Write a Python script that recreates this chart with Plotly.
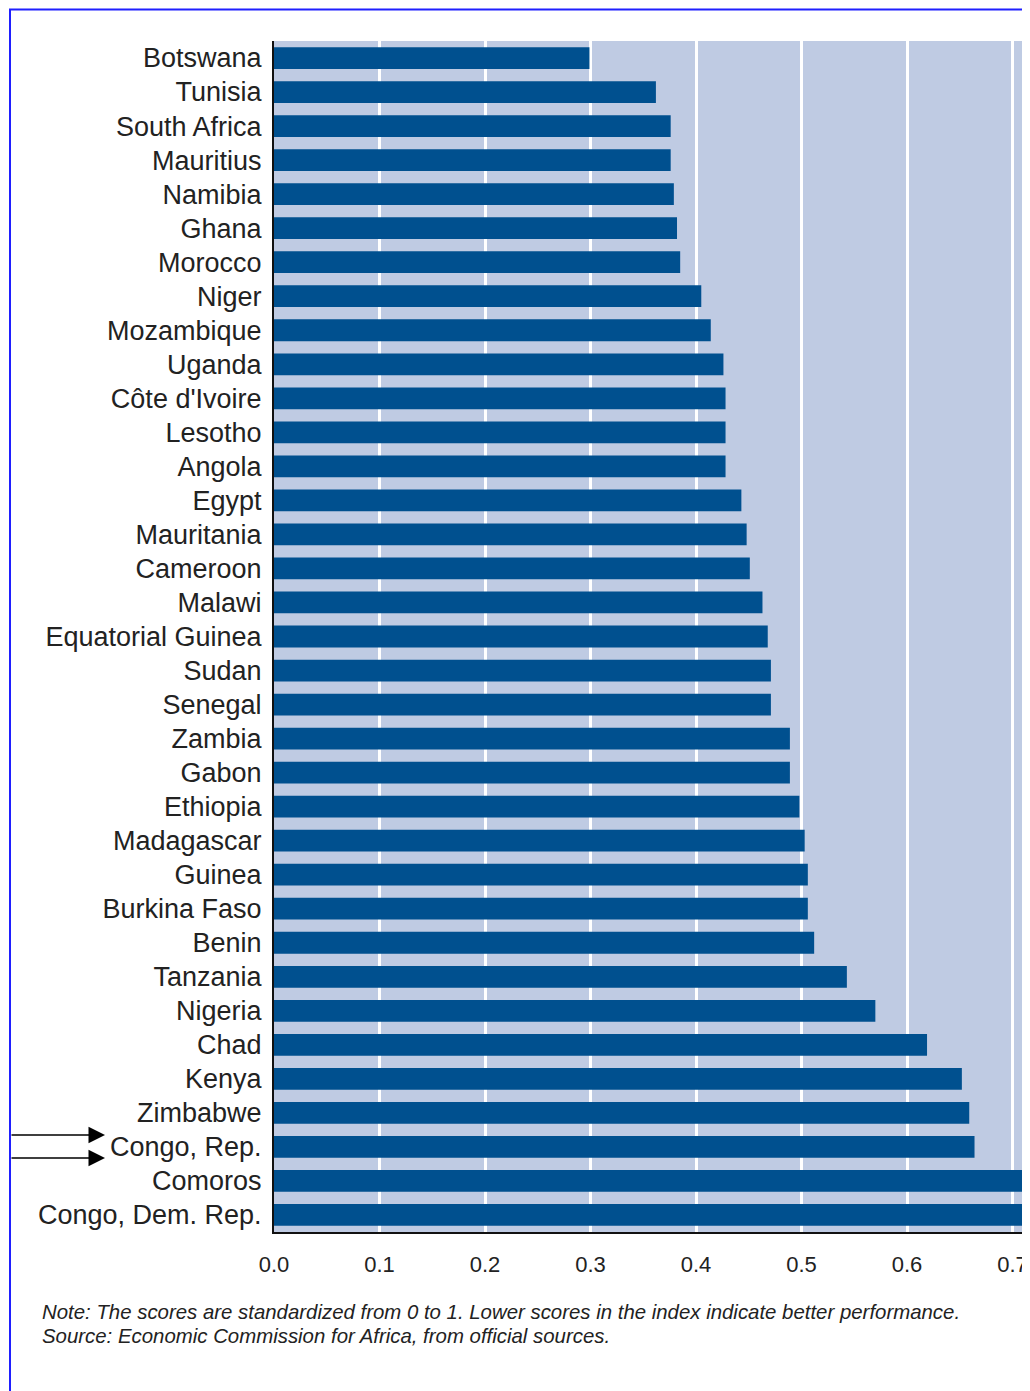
import plotly.graph_objects as go

countries = ["Botswana", "Tunisia", "South Africa", "Mauritius", "Namibia", "Ghana", "Morocco",
             "Niger", "Mozambique", "Uganda", "Côte d'Ivoire", "Lesotho", "Angola", "Egypt",
             "Mauritania", "Cameroon", "Malawi", "Equatorial Guinea", "Sudan", "Senegal", "Zambia",
             "Gabon", "Ethiopia", "Madagascar", "Guinea", "Burkina Faso", "Benin", "Tanzania",
             "Nigeria", "Chad", "Kenya", "Zimbabwe", "Congo, Rep.", "Comoros", "Congo, Dem. Rep."]
scores = [0.299, 0.362, 0.376, 0.376, 0.379, 0.382, 0.385,
          0.405, 0.414, 0.426, 0.428, 0.428, 0.428, 0.443,
          0.448, 0.451, 0.463, 0.468, 0.471, 0.471, 0.489,
          0.489, 0.498, 0.503, 0.506, 0.506, 0.512, 0.543,
          0.570, 0.619, 0.652, 0.659, 0.664, 0.75, 0.78]
tick_vals = [0.0, 0.1, 0.2, 0.3, 0.4, 0.5, 0.6, 0.7]
tick_text = ["0.0", "0.1", "0.2", "0.3", "0.4", "0.5", "0.6", "0.7"]
highlighted = ["Zimbabwe", "Congo, Rep."]
note_lines = ["Note: The scores are standardized from 0 to 1. Lower scores in the index indicate better performance.",
              "Source: Economic Commission for Africa, from official sources."]

W, H = 1030, 1391
OFF = 8  # page body margin
L, R, T, B = 274 - OFF, 0, 41 - OFF, H + OFF - 1232
pw, ph = W - L - R, H - T - B

def px(x):
    return (x - 274) / pw

def py(y):
    return (1232 - y) / ph

fig = go.Figure(go.Bar(
    x=scores, y=countries, orientation="h",
    marker=dict(color="#00508f", line=dict(width=0)),
    width=0.64,
))

fig.update_layout(
    width=W, height=H,
    margin=dict(l=L, r=R, t=T, b=B),
    paper_bgcolor="white",
    plot_bgcolor="#bfcbe3",
    showlegend=False,
    font=dict(family="Liberation Sans, Arial, sans-serif", color="#222222"),
)
fig.update_xaxes(
    range=[0, pw / 1055.0], tickvals=tick_vals, ticktext=tick_text,
    tickfont=dict(size=22, color="#222222"),
    showgrid=True, gridcolor="white", gridwidth=3,
    zeroline=False, showline=True, linecolor="#111111", linewidth=2,
    ticks="", ticklabelstandoff=12,
)
fig.update_yaxes(
    categoryorder="array", categoryarray=countries,
    tickfont=dict(size=27, color="#222222"),
    showgrid=False, showline=True, linecolor="#111111", linewidth=2,
    ticks="", ticklabelstandoff=5,
    range=[len(countries) - 0.5, -0.5],
)

# blue frame (top edge kept just inside the figure)
fig.add_shape(type="rect", xref="paper", yref="paper",
              x0=px(10), x1=px(1060), y0=py(1420), y1=1 + (T - 1.5) / ph,
              line=dict(color="#1f1fff", width=2), fillcolor="rgba(0,0,0,0)", layer="above")

# arrows pointing to highlighted countries
for name, ypix in zip(highlighted, [1135, 1158]):
    fig.add_annotation(xref="paper", yref="paper", x=px(105), y=py(ypix),
                       ax=-95, ay=0, axref="pixel", ayref="pixel",
                       showarrow=True, arrowhead=2, arrowsize=2.2, arrowwidth=1.5,
                       arrowcolor="#000000", text="")

for i, line in enumerate(note_lines):
    fig.add_annotation(xref="paper", yref="paper", x=px(40), y=py(1312 + 24 * i),
                       xanchor="left", yanchor="middle", showarrow=False,
                       text="<i>" + line + "</i>",
                       font=dict(size=20.4, color="#222222", family="Liberation Sans, Arial, sans-serif"))

fig.write_html("out.html")
